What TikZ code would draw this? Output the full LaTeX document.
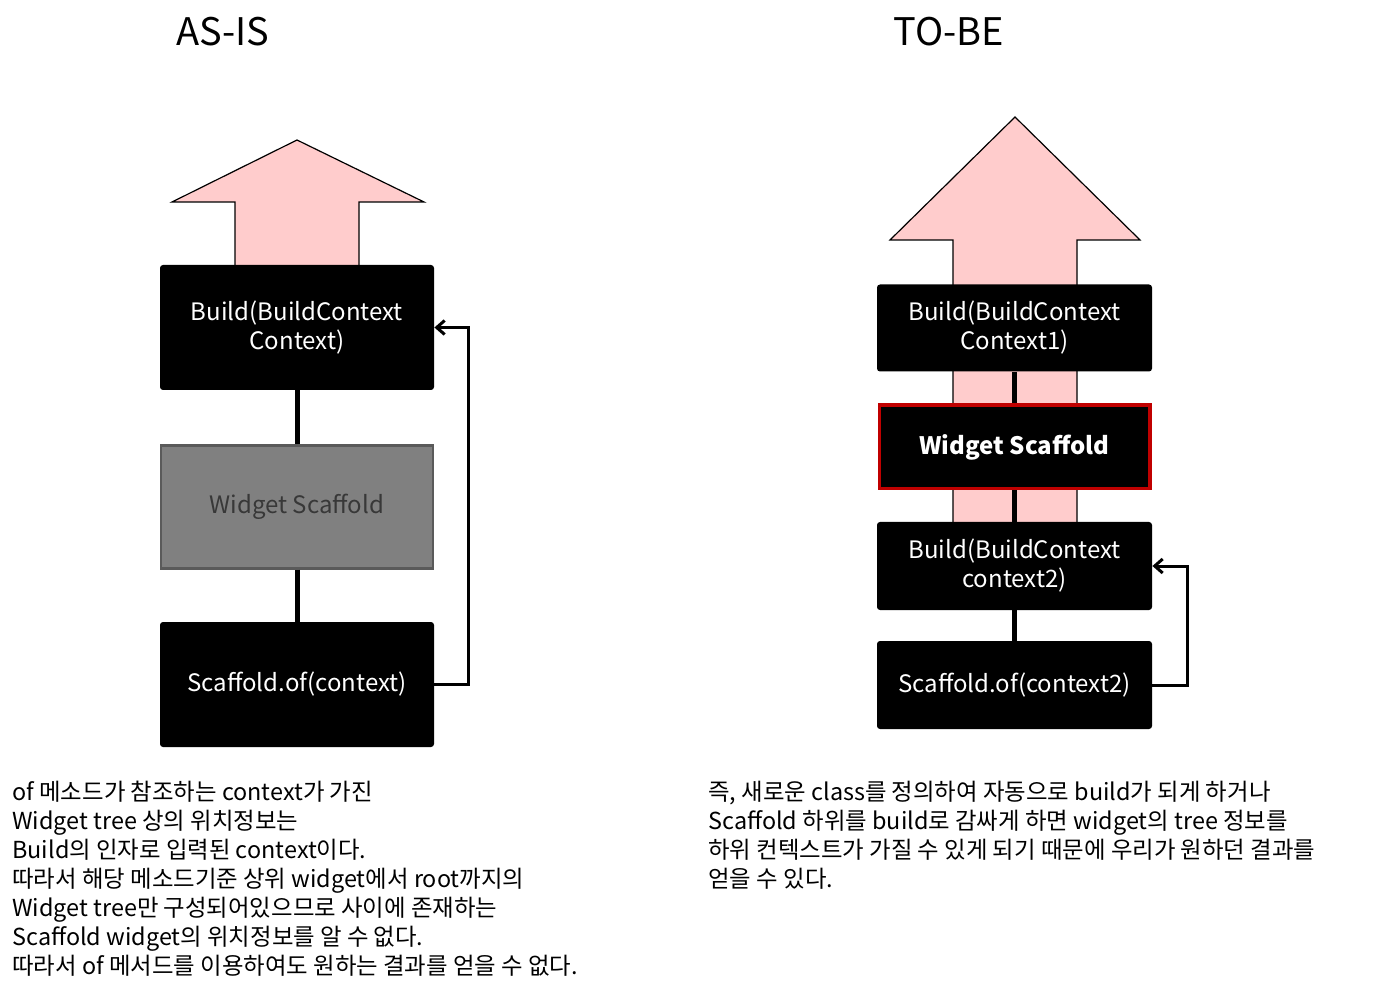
\documentclass[tikz,border=0pt]{standalone}
\usepackage{fontspec}
\setmainfont{Noto Sans CJK KR}
\usetikzlibrary{arrows.meta}
\definecolor{pinkfill}{HTML}{FFCCCC}
\definecolor{grayfill}{HTML}{808080}
\definecolor{grayline}{HTML}{5A5A5A}
\definecolor{graytext}{HTML}{383838}
\definecolor{redline}{HTML}{C00000}
\tikzset{
  bigarrow/.style={fill=pinkfill, draw=black, line width=0.6pt},
  blackbox/.style={fill=black, text=white, rounded corners=1.5pt, inner sep=0pt, align=center, font=\fontsize{12}{14.5}\selectfont},
  linkline/.style={line width=2.5pt, draw=black},
  conn/.style={line width=1.5pt, draw=black, -{Straight Barb[length=4pt,width=7pt]}},
  title/.style={font=\fontsize{19}{22}\selectfont},
  bodytext/.style={anchor=north west, align=left, inner sep=0pt, font=\fontsize{11.7}{14.5}\selectfont}
}
\begin{document}
\begin{tikzpicture}[x=0.5pt,y=-0.5pt]
\useasboundingbox (0,0) rectangle (1375,983);
% titles
\node[title] (t1) at (223,32) {AS-IS};
\node[title] (t2) at (949,32) {TO-BE};
% left big arrow
\draw[bigarrow] (235,270) -- (235,202) -- (172,202) -- (297,140) -- (424,202) -- (359,202) -- (359,270);
% right big arrow
\draw[bigarrow] (953,525) -- (953,240) -- (890,240) -- (1015,117) -- (1140,240) -- (1077,240) -- (1077,525);
% left boxes
\node[blackbox, minimum width=137pt, minimum height=62.5pt] (b1) at (297,327.5) {Build(BuildContext\\Context)};
\node[fill=grayfill, draw=grayline, line width=1.2pt, text=graytext, inner sep=0pt, minimum width=136pt, minimum height=61.5pt, font=\fontsize{12}{14.5}\selectfont] (w1) at (297,507) {Widget Scaffold};
\node[blackbox, minimum width=137pt, minimum height=62.5pt] (s1) at (297,684.5) {Scaffold.of(context)};
\draw[linkline] (b1.south) -- (w1.north);
\draw[linkline] (w1.south) -- (s1.north);
\draw[conn] (s1.east) -- (468,684.5) |- (b1.east);
% right boxes
\node[blackbox, minimum width=137.5pt, minimum height=43.5pt] (b2) at (1014.5,328) {Build(BuildContext\\Context1)};
\node[fill=black, draw=redline, line width=1.8pt, text=white, inner sep=0pt, minimum width=135.2pt, minimum height=41.7pt, font=\bfseries\fontsize{12}{14.5}\selectfont] (w2) at (1014.5,447) {Widget Scaffold};
\node[blackbox, minimum width=137.5pt, minimum height=44pt] (b3) at (1014.5,566) {Build(BuildContext\\context2)};
\node[blackbox, minimum width=137.5pt, minimum height=44pt] (s2) at (1014.5,685) {Scaffold.of(context2)};
\draw[linkline] (b2.south) -- (w2.north);
\draw[linkline] (w2.south) -- (b3.north);
\draw[linkline] (b3.south) -- (s2.north);
\draw[conn] (s2.east) -- (1187,685) |- (b3.east);
% texts
\node[bodytext] (txl) at (12,781) {of 메소드가 참조하는 context가 가진\\
Widget tree 상의 위치정보는\\
Build의 인자로 입력된 context이다.\\
따라서 해당 메소드기준 상위 widget에서 root까지의\\
Widget tree만 구성되어있으므로  사이에 존재하는\\
Scaffold widget의 위치정보를 알 수 없다.\\
따라서 of 메서드를 이용하여도 원하는 결과를 얻을 수 없다.};
\node[bodytext] (txr) at (708,781) {즉, 새로운 class를 정의하여 자동으로 build가 되게 하거나\\
Scaffold 하위를 build로 감싸게 하면 widget의 tree 정보를\\
하위 컨텍스트가 가질 수 있게 되기 때문에 우리가 원하던 결과를\\
얻을 수 있다.};
\end{tikzpicture}
\end{document}
